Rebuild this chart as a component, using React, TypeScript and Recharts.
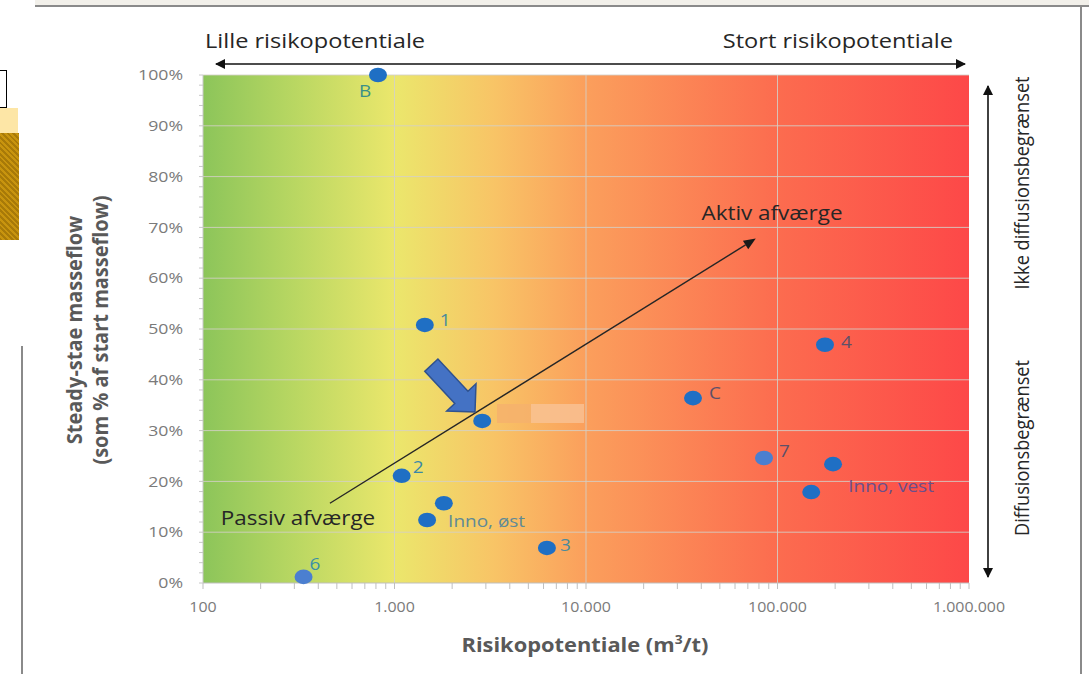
import React from "react";
import {
  ScatterChart,
  Scatter,
  XAxis,
  YAxis,
  CartesianGrid,
  ReferenceLine,
} from "recharts";

// risk potential (m3/t) and steady-state massflow (% of start) per site
const riskValues = [820, 1440, 2870, 1090, 1810, 1480, 6250, 335, 36200, 177000, 85000, 195000, 150000];
const flowValues = [100, 50.8, 31.9, 21.1, 15.7, 12.4, 6.9, 1.2, 36.4, 46.9, 24.6, 23.4, 17.9];
const pointLabels = ["B", "1", "", "2", "", "Inno, øst", "3", "6", "C", "4", "7", "", "Inno, vest"];

const xDecades = [100, 1000, 10000, 100000, 1000000];
const xTickLabels = ["100", "1.000", "10.000", "100.000", "1.000.000"];
const yMajorTicks = [0, 10, 20, 30, 40, 50, 60, 70, 80, 90, 100];

const points = riskValues.map((x, i) => ({ x, y: flowValues[i], label: pointLabels[i] }));

const xTicks: number[] = [];
xDecades.forEach((d, i) => {
  if (i === xDecades.length - 1) {
    xTicks.push(d);
    return;
  }
  for (let k = 1; k < 10; k++) xTicks.push(d * k);
});
const yTicks: number[] = [];
for (let v = 0; v <= 100; v += 2) yTicks.push(v);

const labelStyle: Record<string, { dx: number; dy: number; color: string; anchor?: string }> = {
  B: { dx: -13, dy: 16, color: "#3a9088", anchor: "middle" },
  "1": { dx: 15, dy: -5, color: "#4a8a9c" },
  "2": { dx: 11, dy: -9, color: "#3a88a8" },
  "Inno, øst": { dx: 21, dy: 1, color: "#5f8a96" },
  "3": { dx: 13, dy: -3, color: "#4a8a9c" },
  "6": { dx: 6, dy: -13, color: "#3a90a8" },
  C: { dx: 16, dy: -5, color: "#5e5068" },
  "4": { dx: 16, dy: -3, color: "#5e5068" },
  "7": { dx: 15, dy: -7, color: "#5e5068" },
  "Inno, vest": { dx: 37, dy: -6, color: "#6a4f8c" },
};
const lightDots = ["6", "7"];

const font = "'Open Sans', Lato, sans-serif";
const SX = 1.15; // the source figure is stretched sideways

const SText = ({ x, y, sx = SX, children, ...rest }: any) => (
  <text transform={`translate(${x},${y}) scale(${sx},1)`} {...rest}>
    {children}
  </text>
);

const renderPoint = (props: any) => {
  const { cx, cy, payload } = props;
  const ls = labelStyle[payload.label];
  const fill = lightDots.includes(payload.label) ? "#4b7fd0" : "#1f6fc4";
  return (
    <g>
      <ellipse cx={cx} cy={cy} rx={9} ry={7.3} fill={fill} />
      {ls && (
        <SText
          x={cx + ls.dx}
          y={cy + ls.dy}
          dy="0.35em"
          fill={ls.color}
          fontSize={16.5}
          fontFamily={font}
          textAnchor={ls.anchor || "start"}
        >
          {payload.label}
        </SText>
      )}
    </g>
  );
};

const XTick = (props: any) => {
  const { x, y, payload } = props;
  const i = xDecades.indexOf(payload.value);
  if (i < 0) return null;
  return (
    <SText x={x} y={y} sx={1.1} dy="0.75em" textAnchor="middle" fill="#7a7a7a" fontSize={14.5} fontFamily={font}>
      {xTickLabels[i]}
    </SText>
  );
};

const YTick = (props: any) => {
  const { x, y, payload } = props;
  if (!yMajorTicks.includes(payload.value)) return null;
  return (
    <SText x={x} y={y} sx={1.22} dy="0.36em" textAnchor="end" fill="#7a7a7a" fontSize={14.5} fontFamily={font}>
      {`${payload.value}%`}
    </SText>
  );
};

const diagonalArrow = (props: any) => {
  const { x1, y1, x2, y2 } = props;
  const ang = Math.atan2(y2 - y1, x2 - x1);
  const len = 12;
  const w = 5;
  const bx = x2 - len * Math.cos(ang);
  const by = y2 - len * Math.sin(ang);
  const px = -Math.sin(ang) * w;
  const py = Math.cos(ang) * w;
  return (
    <g>
      <line x1={x1} y1={y1} x2={bx} y2={by} stroke="#262626" strokeWidth={1.4} />
      <polygon points={`${x2},${y2} ${bx + px},${by + py} ${bx - px},${by - py}`} fill="#1a1a1a" />
    </g>
  );
};

export default function App() {
  return (
    <div style={{ position: "absolute", left: 0, top: 0, width: 1089, height: 674, background: "#fff", overflow: "hidden" }}>
      <svg width={0} height={0} style={{ position: "absolute" }}>
        <defs>
          <linearGradient id="riskGradient" x1="0" y1="0" x2="1" y2="0">
            <stop offset="0%" stopColor="#8cc55a" />
            <stop offset="12%" stopColor="#b9d762" />
            <stop offset="25%" stopColor="#ebe76c" />
            <stop offset="38%" stopColor="#f8c466" />
            <stop offset="50%" stopColor="#fb9f5c" />
            <stop offset="75%" stopColor="#fc6c4f" />
            <stop offset="100%" stopColor="#fd4848" />
          </linearGradient>
          <marker id="arrowEnd" viewBox="0 0 10 10" refX="9" refY="5" markerWidth="10" markerHeight="10" markerUnits="userSpaceOnUse" orient="auto">
            <path d="M0,0 L10,5 L0,10 z" fill="#111" />
          </marker>
          <marker id="arrowStart" viewBox="0 0 10 10" refX="1" refY="5" markerWidth="10" markerHeight="10" markerUnits="userSpaceOnUse" orient="auto">
            <path d="M10,0 L0,5 L10,10 z" fill="#111" />
          </marker>
        </defs>
      </svg>

      {/* page frame around the figure */}
      <div style={{ position: "absolute", left: 35, top: 0, width: 1054, height: 5, background: "#f2f0ea", borderBottom: "2px solid #8a8a8a" }} />
      <div style={{ position: "absolute", left: 1080, top: 6, width: 2, height: 668, background: "#8a8a8a" }} />
      <div style={{ position: "absolute", left: 21, top: 346, width: 2, height: 328, background: "#8a8a8a" }} />
      <div style={{ position: "absolute", left: -1, top: 70, width: 6, height: 36, border: "1px solid #000", background: "#fff" }} />
      <div style={{ position: "absolute", left: 0, top: 108, width: 18, height: 25, background: "#fde6a6" }} />
      <div style={{ position: "absolute", left: 0, top: 133, width: 19, height: 107, background: "repeating-linear-gradient(45deg, #a87a08 0 2px, #c8940e 2px 4px)" }} />

      <ScatterChart width={1089} height={674} margin={{ top: 75, right: 120, bottom: 61, left: 143 }}>
        <CartesianGrid
          fill="url(#riskGradient)"
          fillOpacity={1}
          stroke="#d4d0c8"
          strokeOpacity={0.85}
          horizontalValues={yMajorTicks.slice(1)}
          verticalValues={xDecades.slice(1, -1)}
        />
        <XAxis
          dataKey="x"
          type="number"
          scale="log"
          domain={[100, 1000000]}
          allowDataOverflow
          ticks={xTicks}
          interval={0}
          height={30}
          tickSize={6}
          tickMargin={12}
          stroke="#bfbfbf"
          tick={<XTick />}
        />
        <YAxis
          dataKey="y"
          type="number"
          domain={[0, 100]}
          ticks={yTicks}
          interval={0}
          width={60}
          tickSize={4}
          tickMargin={16}
          stroke="#c8c8c8"
          tick={<YTick />}
        />
        <ReferenceLine
          segment={[
            { x: 460, y: 15.7 },
            { x: 77000, y: 67.8 },
          ]}
          shape={diagonalArrow}
          ifOverflow="visible"
        />
        <Scatter data={points} shape={renderPoint} isAnimationActive={false} />
      </ScatterChart>

      <svg width={1089} height={674} style={{ position: "absolute", left: 0, top: 0, pointerEvents: "none" }} fontFamily={font}>
        {/* blanked out label */}
        <rect x={497} y={404} width={34} height={19} fill="#f6b26c" opacity={0.85} />
        <rect x={531} y={404} width={53} height={19} fill="#f8c49a" opacity={0.75} />

        {/* top double arrow */}
        <line x1={216} y1={64} x2={965} y2={64} stroke="#111" strokeWidth={1.6} markerStart="url(#arrowStart)" markerEnd="url(#arrowEnd)" />
        <SText x={205} y={48} fontSize={20.5} fill="#262626">Lille risikopotentiale</SText>
        <SText x={953} y={48} fontSize={20.5} fill="#262626" textAnchor="end">Stort risikopotentiale</SText>

        {/* right double arrow */}
        <line x1={988} y1={86} x2={988} y2={577} stroke="#111" strokeWidth={1.6} markerStart="url(#arrowStart)" markerEnd="url(#arrowEnd)" />
        <text transform="translate(1029,183) rotate(-90) scale(1,1.12)" fontSize={18.2} fill="#262626" textAnchor="middle">Ikke diffusionsbegrænset</text>
        <text transform="translate(1029,448) rotate(-90) scale(1,1.12)" fontSize={18.2} fill="#262626" textAnchor="middle">Diffusionsbegrænset</text>

        {/* annotations */}
        <SText x={772} y={220} fontSize={19.5} fill="#262626" textAnchor="middle">Aktiv afværge</SText>
        <SText x={298} y={525} fontSize={19.5} fill="#262626" textAnchor="middle">Passiv afværge</SText>
        <polygon
          points="0,0 -20,-20 -20,-9 -64,-9 -64,9 -20,9 -20,20"
          transform="translate(475,412) rotate(47)"
          fill="#4472c4"
          stroke="#2f528f"
          strokeWidth={1.5}
        />

        {/* axis titles */}
        <text transform="translate(82,330) rotate(-90) scale(1,1.1)" fontSize={20} fontWeight="bold" fill="#595959" textAnchor="middle">Steady-stae masseflow</text>
        <text transform="translate(108,330) rotate(-90) scale(1,1.1)" fontSize={20} fontWeight="bold" fill="#595959" textAnchor="middle">(som % af start masseflow)</text>
        <SText x={585} y={652} fontSize={19} fontWeight="bold" fill="#595959" textAnchor="middle">
          Risikopotentiale (m<tspan dy={-8} fontSize={12}>3</tspan><tspan dy={8}>/t)</tspan>
        </SText>
      </svg>
    </div>
  );
}
